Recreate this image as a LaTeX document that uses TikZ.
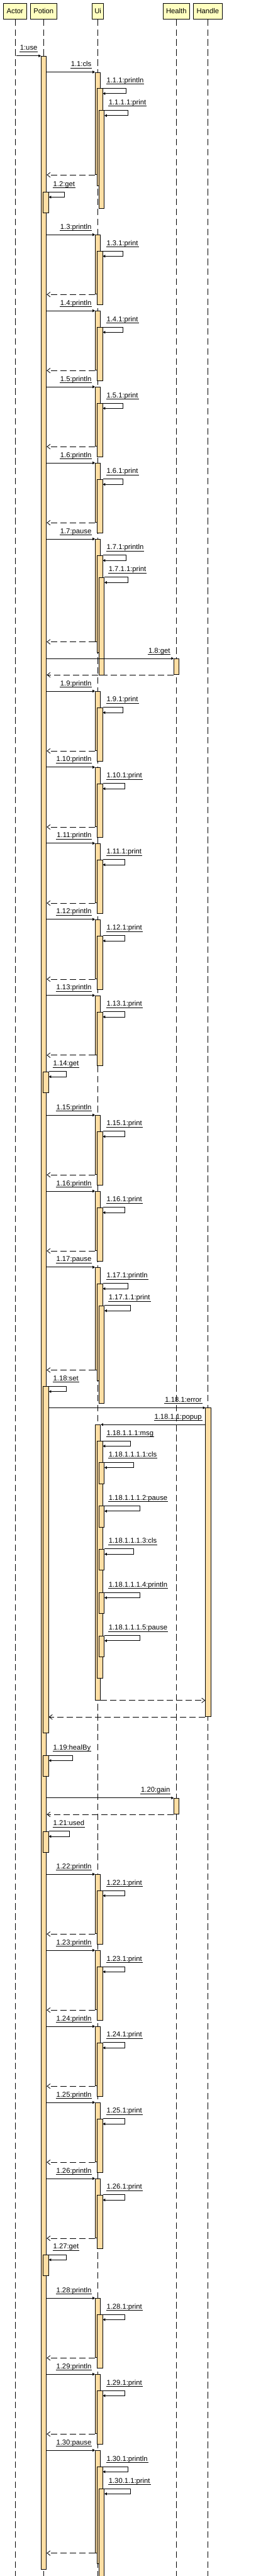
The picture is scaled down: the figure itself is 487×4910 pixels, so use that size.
\documentclass[tikz,border=0pt]{standalone}
\usepackage{fontspec}
\setmainfont{Liberation Sans}
\usetikzlibrary{arrows.meta}
\definecolor{headfill}{RGB}{255,255,192}
\definecolor{barfill}{RGB}{255,222,164}
\tikzset{
  head/.style={draw=black, line width=1pt, fill=headfill, minimum height=30pt, inner sep=0pt, font=\fontsize{13.5}{16}\selectfont},
  lifeline/.style={line width=1pt, dash pattern=on 12.5pt off 6.5pt},
  actbar/.style={draw=black, line width=1pt, fill=barfill, minimum width=10pt, inner sep=0pt, anchor=north},
  call/.style={line width=1pt, -{Triangle[length=4.5pt,width=5pt]}},
  ret/.style={line width=1pt, dash pattern=on 12pt off 6pt, -{Straight Barb[length=6pt,width=9pt]}},
  msgtxt/.style={inner xsep=1pt, inner ysep=0.5pt, text height=10pt, text depth=2pt, font=\fontsize{13.5}{16}\selectfont},
  uline/.style={line width=0.8pt},
}
\newcommand\mkbar[4]{\pgfmathsetmacro\myh{#4-#3}\node[actbar, minimum height=\myh pt] (#1) at (#2,#3) {};}
\newcommand\ulabel[4]{\node[msgtxt, anchor=#3] (#1) at #2 {#4};\draw[uline] (#1.south west) -- (#1.south east);}
\newcommand\selfarrow[2]{\draw[call] (#1.north east) -- ++(#2,0) -- ++(0,10) -- ([yshift=-10pt]#1.north east);}
\newcommand\uiprint[5]{%
  \mkbar{u#1}{186.5}{#2}{#2+113}
  \mkbar{c#1}{190.5}{#2+31}{#2+71}
  \draw[call] (pmain.east |- u#1.north) -- (u#1.north west);
  \ulabel{lu#1}{([xshift=-5.6pt,yshift=8pt]u#1.north west)}{south east}{#3}
  \selfarrow{c#1}{#5-195.5}
  \ulabel{lc#1}{(202,#2+23)}{south west}{#4}
  \draw[ret] (u#1.south west) -- (pmain.east |- u#1.south);
}
\newcommand\uipause[7]{%
  \mkbar{u#1}{186.5}{#2}{#2+195}
  \mkbar{c#1}{190.5}{#2+31}{#2+154}
  \mkbar{g#1}{193.5}{#2+73}{#2+113}
  \draw[call] (pmain.east |- u#1.north) -- (u#1.north west);
  \ulabel{lu#1}{([xshift=-5.6pt,yshift=8pt]u#1.north west)}{south east}{#3}
  \selfarrow{c#1}{#5-195.5}
  \ulabel{lc#1}{(202,#2+23)}{south west}{#4}
  \selfarrow{g#1}{#7-198.5}
  \ulabel{lg#1}{(206,#2+65)}{south west}{#6}
  \draw[ret] (u#1.south west) -- (pmain.east |- u#1.south);
}
\newcommand\potself[5]{%
  \mkbar{s#1}{87.5}{#2}{#3}
  \selfarrow{s#1}{#5-92.5}
  \ulabel{ls#1}{(100.3,#2-8)}{south west}{#4}
}
\newcommand\healthcall[3]{%
  \mkbar{hb#1}{336.5}{#2}{#2+30.3}
  \draw[call] (pmain.east |- hb#1.north) -- (hb#1.north west);
  \ulabel{lh#1}{([xshift=-5.6pt,yshift=8pt]hb#1.north west)}{south east}{#3}
  \draw[ret] (hb#1.south west) -- (pmain.east |- hb#1.south);
}
\newcommand\gself[4]{%
  \mkbar{g#1}{193.5}{#2}{#2+40}
  \selfarrow{g#1}{#4-198.5}
  \ulabel{lg#1}{(206,#2-8)}{south west}{#3}
}
\begin{document}
\begin{tikzpicture}[x=1pt,y=-1pt]
\fill[white] (0,0) rectangle (487,4910);
\useasboundingbox (0,0) rectangle (487,4910);
\coordinate (bottom) at (0,4910);
% heads
\node[head, minimum width=44pt] (hA) at (28.5,21.3) {Actor};
\node[head, minimum width=51pt] (hP) at (83,21.3) {Potion};
\node[head, minimum width=22pt] (hU) at (186.5,21.3) {Ui};
\node[head, minimum width=51pt] (hH) at (336,21.3) {Health};
\node[head, minimum width=55pt] (hN) at (396,21.3) {Handle};
% lifelines
\draw[lifeline] ([xshift=0.3pt]hA.south) -- ([xshift=0.3pt]hA.south |- bottom);
\draw[lifeline] ([xshift=0.3pt]hP.south) -- ([xshift=0.3pt]hP.south |- bottom);
\draw[lifeline] (hU.south) -- (hU.south |- bottom);
\draw[lifeline] ([xshift=0.3pt]hH.south) -- ([xshift=0.3pt]hH.south |- bottom);
\draw[lifeline] ([xshift=0.3pt]hN.south) -- ([xshift=0.3pt]hN.south |- bottom);
% main activation
\mkbar{pmain}{83.5}{106.5}{4896.7}
\coordinate (useFrom) at (31,106.5);
\draw[call] (useFrom) -- (pmain.north west);
\ulabel{luse}{([xshift=-5.6pt,yshift=8pt]pmain.north west)}{south east}{1:use}
\uipause{1}{137.3}{1.1:cls}{1.1.1:println}{240.3}{1.1.1.1:print}{243.7}
\potself{2}{365.7}{405.7}{1.2:get}{121.7}
\uiprint{3}{447.3}{1.3:println}{1.3.1:print}{233.7}
\uiprint{4}{592.3}{1.4:println}{1.4.1:print}{233.7}
\uiprint{5}{737.3}{1.5:println}{1.5.1:print}{233.7}
\uiprint{6}{882.3}{1.6:println}{1.6.1:print}{233.7}
\uipause{7}{1027.3}{1.7:pause}{1.7.1:println}{240.3}{1.7.1.1:print}{243.7}
\healthcall{8}{1255}{1.8:get}
\uiprint{9}{1317.3}{1.9:println}{1.9.1:print}{233.7}
\uiprint{10}{1462.3}{1.10:println}{1.10.1:print}{237.7}
\uiprint{11}{1607.3}{1.11:println}{1.11.1:print}{237.7}
\uiprint{12}{1752.3}{1.12:println}{1.12.1:print}{237.7}
\uiprint{13}{1897.3}{1.13:println}{1.13.1:print}{237.7}
\potself{14}{2042.3}{2082.3}{1.14:get}{125.7}
\uiprint{15}{2125.3}{1.15:println}{1.15.1:print}{237.7}
\uiprint{16}{2270.3}{1.16:println}{1.16.1:print}{237.7}
\uipause{17}{2415.3}{1.17:pause}{1.17.1:println}{243.7}{1.17.1.1:print}{247.7}
% 1.18 block
\potself{18}{2642.3}{3302.3}{1.18:set}{125.7}
\mkbar{hn}{396.7}{2683.3}{3271.7}
\draw[call] (s18.east |- hn.north) -- (hn.north west);
\ulabel{lerr}{([xshift=-5.6pt,yshift=8pt]hn.north west)}{south east}{1.18.1:error}
\mkbar{u18}{186.5}{2715.3}{3240}
\coordinate (popFrom) at (hn.west |- u18.north);
\draw[call] (popFrom) -- (u18.north east);
\ulabel{lpop}{([xshift=-5.6pt,yshift=8pt]popFrom)}{south east}{1.18.1.1:popup}
\mkbar{c18}{190.5}{2746.3}{3198.3}
\selfarrow{c18}{248.7-195.5}
\ulabel{lc18}{(202,2738.3)}{south west}{1.18.1.1.1:msg}
\gself{18a}{2787.3}{1.18.1.1.1.1:cls}{253.7}
\gself{18b}{2870.3}{1.18.1.1.1.2:pause}{265.7}
\gself{18c}{2952.3}{1.18.1.1.1.3:cls}{253.7}
\gself{18d}{3035.3}{1.18.1.1.1.4:println}{265.7}
\gself{18e}{3117.3}{1.18.1.1.1.5:pause}{265.7}
\coordinate (popRet) at (hn.west |- u18.south);
\draw[ret] (u18.south east) -- (popRet);
\coordinate (errRet) at (s18.east |- hn.south);
\draw[ret] (hn.south west) -- (errRet);
% rest
\potself{19}{3345.7}{3385.7}{1.19:healBy}{137.7}
\healthcall{20}{3427}{1.20:gain}
\potself{21}{3490.3}{3530.3}{1.21:used}{131.7}
\uiprint{22}{3572.3}{1.22:println}{1.22.1:print}{237.7}
\uiprint{23}{3717.3}{1.23:println}{1.23.1:print}{237.7}
\uiprint{24}{3862.3}{1.24:println}{1.24.1:print}{237.7}
\uiprint{25}{4007.3}{1.25:println}{1.25.1:print}{237.7}
\uiprint{26}{4152.3}{1.26:println}{1.26.1:print}{237.7}
\potself{27}{4297.3}{4337.3}{1.27:get}{125.7}
\uiprint{28}{4380.3}{1.28:println}{1.28.1:print}{237.7}
\uiprint{29}{4525.3}{1.29:println}{1.29.1:print}{237.7}
\uipause{30}{4670.3}{1.30:pause}{1.30.1:println}{243.7}{1.30.1.1:print}{247.7}
\end{tikzpicture}
\end{document}
